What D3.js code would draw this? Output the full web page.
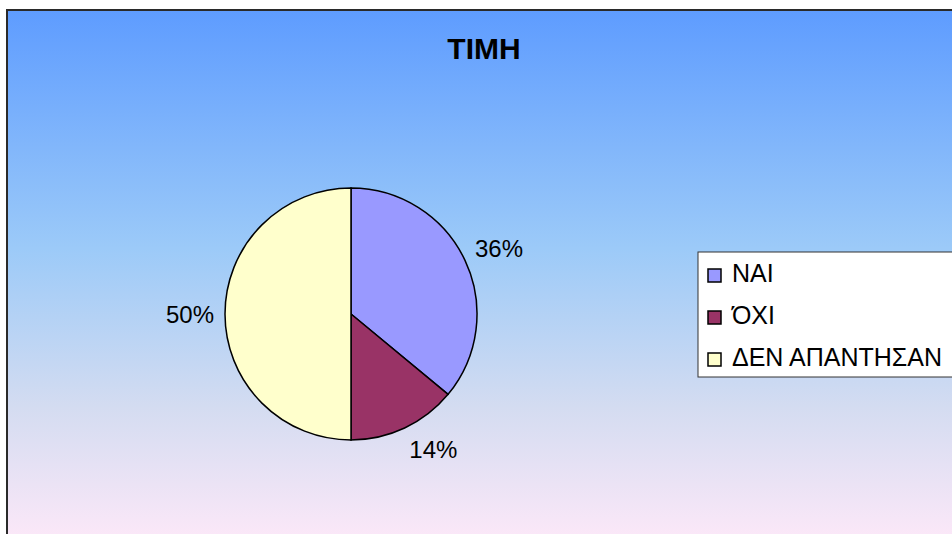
<!DOCTYPE html>
<html>
<head>
<meta charset="utf-8">
<script src="https://cdn.jsdelivr.net/npm/d3@7"></script>
<style>
    body { margin: 0; overflow: hidden; background: #fff; }
    text { font-family: "Liberation Sans", Arial, sans-serif; }
</style>
</head>
<body>
<div id="chart"></div>
<script>
var width = 952;
var height = 534;

// data
var categories = ["ΝΑΙ", "ΌΧΙ", "ΔΕΝ ΑΠΑΝΤΗΣΑΝ"];
var values = [36, 14, 50];
var colors = ["#9999ff", "#993366", "#ffffcc"];
var title = "ΤΙΜΗ";

var cx = 351, cy = 314, radius = 126;

var svg = d3.select("#chart").append("svg")
    .attr("width", width)
    .attr("height", height);

// background gradient
var grad = svg.append("defs").append("linearGradient")
    .attr("id", "bg")
    .attr("x1", 0).attr("y1", 0).attr("x2", 0).attr("y2", 1);
grad.append("stop").attr("offset", "0%").attr("stop-color", "#5e9cff");
grad.append("stop").attr("offset", "45%").attr("stop-color", "#9ccaf8");
grad.append("stop").attr("offset", "75%").attr("stop-color", "#d4dcf1");
grad.append("stop").attr("offset", "100%").attr("stop-color", "#fce8f8");

svg.append("rect")
    .attr("x", 7)
    .attr("y", 10)
    .attr("width", 960)
    .attr("height", 530)
    .attr("fill", "url(#bg)")
    .attr("stroke", "#2a2a2a")
    .attr("stroke-width", 2);

svg.append("text")
    .attr("x", 484)
    .attr("y", 59)
    .attr("text-anchor", "middle")
    .style("font-size", "30px")
    .style("font-weight", "bold")
    .text(title);

var pie = d3.pie().sort(null).value(d => d);
var arcs = pie(values);
var arc = d3.arc().innerRadius(0).outerRadius(radius);

var g = svg.append("g").attr("transform", `translate(${cx},${cy})`);

g.selectAll(".slice").data(arcs)
    .enter().append("path")
    .classed("slice", true)
    .attr("d", arc)
    .attr("fill", (d, i) => colors[i])
    .attr("stroke", "#000")
    .attr("stroke-width", 1.5);

// labels sit outside the pie, box touching a point just past the rim
var total = d3.sum(values);
var labelR = 137;
var labelH = 17.4;
g.selectAll(".lbl").data(arcs)
    .enter().append("text")
    .classed("lbl", true)
    .style("font-size", "24px")
    .attr("x", d => Math.sin((d.startAngle + d.endAngle) / 2) * labelR)
    .attr("y", d => {
        var a = (d.startAngle + d.endAngle) / 2;
        var c = Math.cos(a);
        var y = -c * labelR;
        if (c > 0.2) return y + 1;
        if (c < -0.2) return y + labelH + 3;
        return y + labelH / 2;
    })
    .attr("text-anchor", d => {
        var s = Math.sin((d.startAngle + d.endAngle) / 2);
        return s > 0.2 ? "start" : (s < -0.2 ? "end" : "middle");
    })
    .text(d => Math.round(d.value / total * 100) + "%");

// legend
var legend = svg.append("g");
legend.append("rect")
    .attr("x", 698)
    .attr("y", 252)
    .attr("width", 300)
    .attr("height", 125)
    .attr("fill", "#fff")
    .attr("stroke", "#333")
    .attr("stroke-width", 1);

var rows = legend.selectAll(".row").data(categories)
    .enter().append("g")
    .classed("row", true)
    .attr("transform", (d, i) => `translate(708,${269 + i * 42})`);
rows.append("rect")
    .attr("width", 13)
    .attr("height", 13)
    .attr("fill", (d, i) => colors[i])
    .attr("stroke", "#000")
    .attr("stroke-width", 1.5);
rows.append("text")
    .attr("x", 24)
    .attr("y", 13)
    .style("font-size", "25px")
    .text(d => d);
</script>
</body>
</html>
